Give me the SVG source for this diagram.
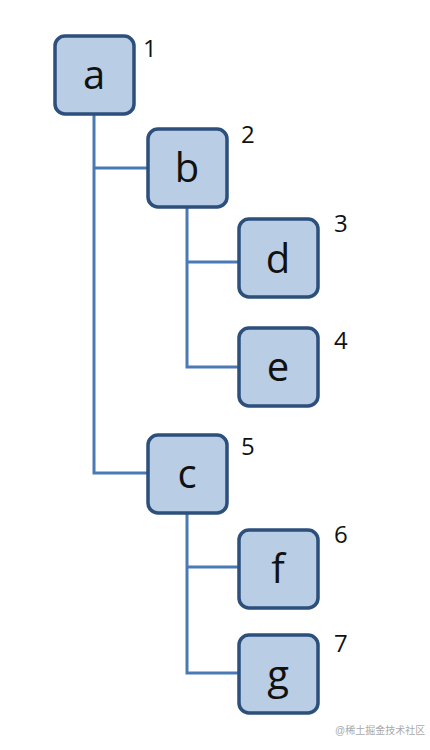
<svg xmlns="http://www.w3.org/2000/svg" width="430" height="750" viewBox="0 0 430 750">
<style>
.box{fill:#b9cde5;stroke:#2c4f7c;stroke-width:3.5}
.lbl{font-family:"Open Sans","Liberation Sans",sans-serif;font-size:40px;fill:#111;text-anchor:middle}
.num{font-family:"Open Sans","Liberation Sans",sans-serif;font-size:24px;fill:#111}
.wm{font-family:"Liberation Sans","Noto Sans CJK SC",sans-serif;font-size:10px;fill:#aaa}
.con{fill:none;stroke:#4a7ab5;stroke-width:3}
</style>
<rect width="430" height="750" fill="#fff"/>
<g id="connectors">
<path class="con" d="M94 115 V473 H148 M94 168 H148"/>
<path class="con" d="M187 207 V367 H238 M187 262 H238"/>
<path class="con" d="M187 513 V673 H238 M187 567 H238"/>
</g>
<g id="a"><rect class="box" x="55" y="36" width="79" height="78" rx="10"/><text class="lbl" x="94" y="89">a</text><text class="num" x="143" y="57">1</text></g>
<g id="b"><rect class="box" x="148" y="129" width="79" height="78" rx="10"/><text class="lbl" x="187" y="182">b</text><text class="num" x="241" y="143">2</text></g>
<g id="d"><rect class="box" x="239" y="219" width="79" height="78" rx="10"/><text class="lbl" x="278" y="273">d</text><text class="num" x="334" y="232">3</text></g>
<g id="e"><rect class="box" x="239" y="328" width="79" height="78" rx="10"/><text class="lbl" x="278" y="381">e</text><text class="num" x="334" y="349">4</text></g>
<g id="c"><rect class="box" x="148" y="435" width="79" height="78" rx="10"/><text class="lbl" x="187" y="488">c</text><text class="num" x="241" y="455">5</text></g>
<g id="f"><rect class="box" x="239" y="530" width="79" height="78" rx="10"/><text class="lbl" x="278" y="583">f</text><text class="num" x="334" y="543">6</text></g>
<g id="g"><rect class="box" x="239" y="635" width="79" height="78" rx="10"/><text class="lbl" x="278" y="689">g</text><text class="num" x="334" y="652">7</text></g>
<text class="wm" x="335" y="734">@稀土掘金技术社区</text>
</svg>
